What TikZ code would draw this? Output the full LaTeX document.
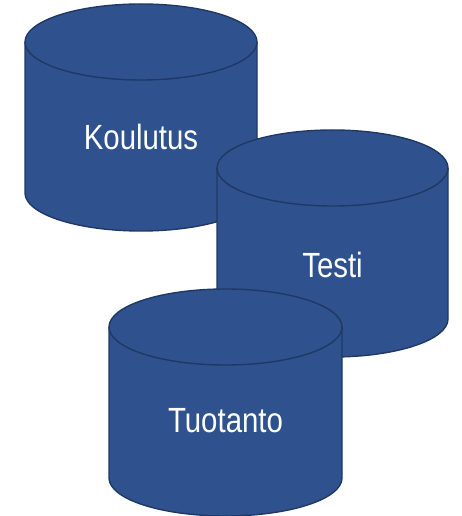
\documentclass[tikz,border=0pt]{standalone}
\usepackage{fontspec}
\newfontfamily\labelfont{Liberation Sans}[FakeStretch=0.84]
\definecolor{cylfill}{HTML}{2F528F}
\definecolor{cyledge}{HTML}{1F3864}
\newcommand\mycyl[5]{% cx, topy, rx, ry, height
  \fill[cylfill] (#1-#3,#2) -- (#1-#3,#2-#5) arc[start angle=180,end angle=360,x radius=#3,y radius=#4] -- (#1+#3,#2) arc[start angle=0,end angle=180,x radius=#3,y radius=#4] -- cycle;
  \draw[cylline] (#1-#3,#2) -- (#1-#3,#2-#5) arc[start angle=180,end angle=360,x radius=#3,y radius=#4] -- (#1+#3,#2);
  \draw[cylline] (#1,#2) ellipse[x radius=#3,y radius=#4];
}
\tikzset{
  cylline/.style={draw=cyledge,line width=1.4pt,line join=round},
  cyltext/.style={text=white,font=\labelfont\fontsize{35}{40}\selectfont,inner sep=0pt}
}
\begin{document}
\begin{tikzpicture}[x=1pt,y=1pt]
\useasboundingbox (0,0) rectangle (461,516);
\mycyl{141}{474}{116}{38}{151}
\node[cyltext] (koulutus) at (141,379) {Koulutus};
\mycyl{332.5}{348}{115.5}{38}{151}
\node[cyltext] (testi) at (332.5,251) {Testi};
\mycyl{225.5}{189}{116.5}{38}{151}
\node[cyltext] (tuotanto) at (225.5,95) {Tuotanto};
\end{tikzpicture}
\end{document}
